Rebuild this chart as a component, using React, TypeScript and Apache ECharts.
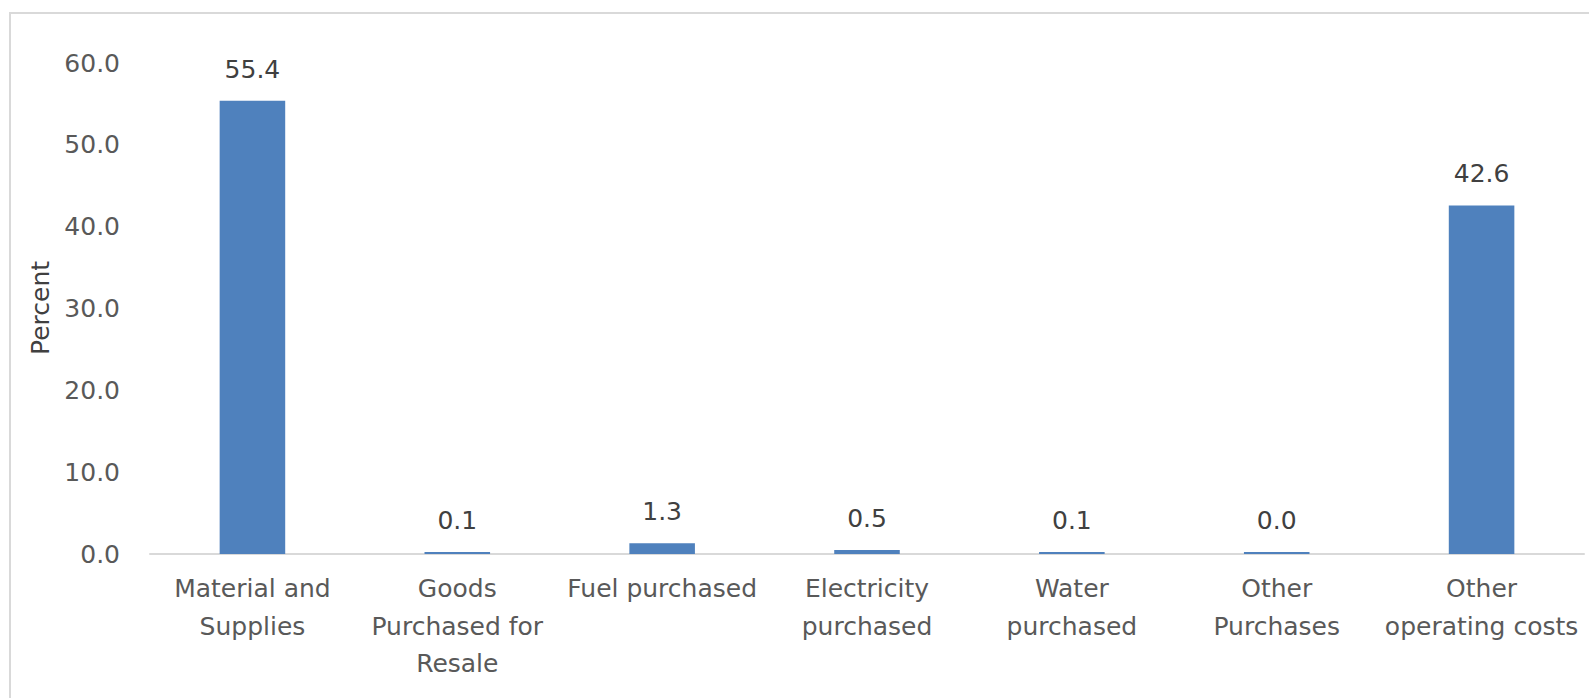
import React, { useEffect, useRef } from "react";
import * as echarts from "echarts";

const categories = [
  "Material and\nSupplies",
  "Goods\nPurchased for\nResale",
  "Fuel purchased",
  "Electricity\npurchased",
  "Water\npurchased",
  "Other\nPurchases",
  "Other\noperating costs",
];
const percentValues = [55.4, 0.1, 1.3, 0.5, 0.1, 0.0, 42.6];
const yTicks = { min: 0, max: 60, interval: 10 };
const yAxisTitle = "Percent";

const FONT = "DejaVu Sans";

export default function App() {
  const ref = useRef<HTMLDivElement>(null);
  useEffect(() => {
    if (!ref.current) return;
    const chart = echarts.init(ref.current, undefined, { renderer: "svg" });
    chart.setOption({
      animation: false,
      backgroundColor: "#ffffff",
      textStyle: { fontFamily: FONT },
      grid: { left: 150, right: 5, top: 63, bottom: 144, containLabel: false },
      graphic: [
        {
          type: "rect",
          shape: { x: 10, y: 13, width: 1620, height: 720 },
          style: { fill: "none", stroke: "#d9d9d9", lineWidth: 2 },
          silent: true,
        },
        {
          type: "text",
          x: 40,
          y: 308,
          rotation: Math.PI / 2,
          style: {
            text: yAxisTitle,
            fill: "#404040",
            fontSize: 25,
            fontFamily: FONT,
            align: "center",
            verticalAlign: "middle",
          },
        },
      ],
      xAxis: {
        type: "category",
        data: categories,
        axisLine: { show: true, lineStyle: { color: "#d9d9d9", width: 2 } },
        axisTick: { show: false },
        axisLabel: {
          interval: 0,
          color: "#595959",
          fontSize: 25,
          fontFamily: FONT,
          lineHeight: 37.5,
          margin: 16,
        },
      },
      yAxis: {
        type: "value",
        min: yTicks.min,
        max: yTicks.max,
        interval: yTicks.interval,
        splitLine: { show: false },
        axisLine: { show: false },
        axisTick: { show: false },
        axisLabel: {
          color: "#595959",
          fontSize: 25,
          fontFamily: FONT,
          margin: 30,
          formatter: (v: number) => v.toFixed(1),
        },
      },
      series: [
        {
          type: "bar",
          data: percentValues,
          barWidth: "32%",
          barMinHeight: 2,
          itemStyle: { color: "#4F81BD" },
          label: {
            show: true,
            position: "top",
            distance: 19,
            color: "#404040",
            fontSize: 25,
            fontFamily: FONT,
            formatter: (p: any) => Number(p.value).toFixed(1),
          },
        },
      ],
    });
    return () => chart.dispose();
  }, []);
  return (
    <div
      ref={ref}
      style={{ position: "absolute", left: 0, top: 0, width: 1589, height: 698 }}
    />
  );
}
